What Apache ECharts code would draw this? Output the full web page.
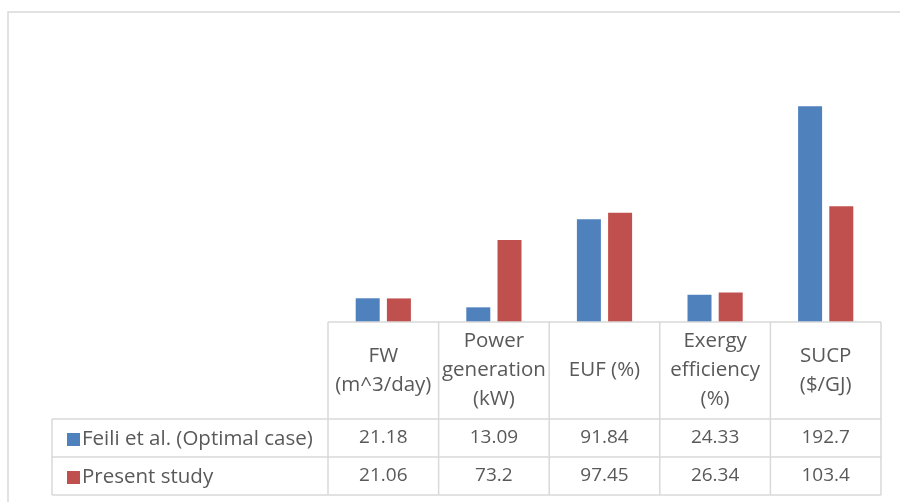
<!DOCTYPE html>
<html>
<head>
<meta charset="utf-8">
<script src="https://cdn.jsdelivr.net/npm/echarts@6/dist/echarts.min.js"></script>
<style>
html,body{margin:0;padding:0;background:#fff;}
#main{width:900px;height:502px;}
</style>
</head>
<body>
<div id="main"></div>
<script>
var categories = ["FW\n(m^3/day)", "Power\ngeneration\n(kW)", "EUF (%)", "Exergy\nefficiency\n(%)", "SUCP\n($/GJ)"];
var seriesNames = ["Feili et al. (Optimal case)", "Present study"];
var feiliValues = [21.18, 13.09, 91.84, 24.33, 192.7];
var presentValues = [21.06, 73.2, 97.45, 26.34, 103.4];
var feiliLabels = ["21.18", "13.09", "91.84", "24.33", "192.7"];
var presentLabels = ["21.06", "73.2", "97.45", "26.34", "103.4"];

var FONT = "'Open Sans', 'Liberation Sans', sans-serif";
var FS_TEXT = 20.5, FS_NUM = 19;
var TXT = '#595959';
var LINE = '#d9d9d9';
var BLUE = '#4f81bd', RED = '#c0504d';

var gL = 328, gW = 553, gTop = 42, base = 322;
var colW = gW / categories.length;
var tableLeft = 52, hdrBot = 419, row1Bot = 457, row2Bot = 495, gR = gL + gW;

var chart = echarts.init(document.getElementById('main'), null, {renderer: 'canvas'});

function line(x1, y1, x2, y2) {
  return {type: 'line', silent: true, z: 50,
    shape: {x1: x1, y1: y1, x2: x2, y2: y2},
    style: {stroke: LINE, lineWidth: 1.5}};
}
var g = [];
g.push({type: 'rect', silent: true, z: 0,
  shape: {x: 8, y: 12, width: 900, height: 520},
  style: {fill: 'none', stroke: LINE, lineWidth: 1.5}});
g.push(line(gL, base, gR, base));
g.push(line(tableLeft, hdrBot, gR, hdrBot));
g.push(line(tableLeft, row1Bot, gR, row1Bot));
g.push(line(tableLeft, row2Bot, gR, row2Bot));
g.push(line(tableLeft, hdrBot, tableLeft, row2Bot));
for (var k = 0; k <= categories.length; k++) {
  var x = gL + colW * k;
  g.push(line(x, base, x, row2Bot));
}

function tableAxis(data, margin, fs) {
  return {type: 'category', gridIndex: 0, position: 'bottom', data: data,
    axisLine: {show: false}, axisTick: {show: false}, splitLine: {show: false},
    axisLabel: {margin: margin, interval: 0, color: TXT, fontFamily: FONT, fontSize: fs,
      lineHeight: 29, verticalAlign: 'middle'}};
}

function legendFor(name, rowCenter) {
  return {data: [name], left: 62, top: rowCenter - 14, orient: 'vertical',
    icon: 'rect', itemWidth: 13, itemHeight: 13, itemGap: 5,
    textStyle: {color: TXT, fontFamily: FONT, fontSize: FS_TEXT, lineHeight: 20, padding: [0, 0, 0, -3]}};
}

var option = {
  backgroundColor: '#fff',
  animation: false,
  grid: {left: gL, top: gTop, width: gW, bottom: 502 - base, containLabel: false},
  xAxis: [
    tableAxis(categories, (hdrBot - base) / 2, FS_TEXT),
    tableAxis(feiliLabels, (hdrBot + row1Bot) / 2 - base, FS_NUM),
    tableAxis(presentLabels, (row1Bot + row2Bot) / 2 - base, FS_NUM)
  ],
  yAxis: {type: 'value', min: 0, max: 250, interval: 50, show: false, splitLine: {show: false}},
  legend: [
    legendFor(seriesNames[0], (hdrBot + row1Bot) / 2),
    legendFor(seriesNames[1], (row1Bot + row2Bot) / 2)
  ],
  series: [
    {name: seriesNames[0], type: 'bar', xAxisIndex: 0, data: feiliValues, barWidth: 24, barGap: '30%',
     itemStyle: {color: BLUE}},
    {name: seriesNames[1], type: 'bar', xAxisIndex: 0, data: presentValues, barWidth: 24, barGap: '30%',
     itemStyle: {color: RED}}
  ],
  graphic: g
};
chart.setOption(option);
</script>
</body>
</html>
